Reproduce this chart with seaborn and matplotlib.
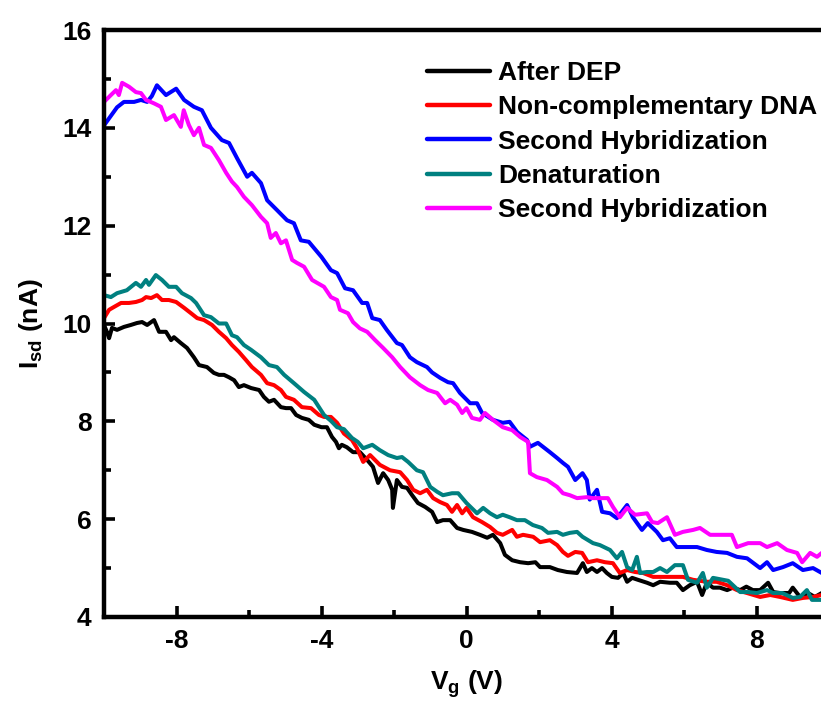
import matplotlib
matplotlib.use("Agg")
import matplotlib.pyplot as plt
import seaborn as sns
from matplotlib.ticker import MultipleLocator

# ---------------- data ----------------
labels = ["After DEP", "Non-complementary DNA", "Second Hybridization",
          "Denaturation", "Second Hybridization"]
colors = ["#000000", "#ff0000", "#0000ff", "#008080", "#ff00ff"]

black_x = [-10, -9.92, -9.86, -9.78, -9.64, -9.45, -9.26, -9.09, -8.95, -8.81, -8.62, -8.48, -8.29, -8.15,
           -8.07, -7.88, -7.71, -7.52, -7.38, -7.16, -6.97, -6.83, -6.69, -6.55, -6.41, -6.28, -6.14, -5.94,
           -5.72, -5.59, -5.45, -5.31, -5.12, -4.98, -4.84, -4.70, -4.54, -4.35, -4.20, -4.0, -3.85, -3.71,
           -3.60, -3.52, -3.44, -3.30, -3.13, -2.94, -2.74, -2.58, -2.44, -2.30, -2.16, -2.05, -2.03, -1.92,
           -1.78, -1.64, -1.50, -1.34, -1.14, -0.95, -0.81, -0.65, -0.45, -0.26, -0.09, 0.15, 0.37, 0.57,
           0.73, 0.93, 1.06, 1.26, 1.48, 1.70, 1.90, 2.03, 2.30, 2.52, 2.77, 3.05, 3.21, 3.32, 3.46, 3.60,
           3.74, 3.87, 4.01, 4.18, 4.32, 4.43, 4.57, 4.73, 4.98, 5.15, 5.34, 5.61, 5.80, 5.97, 6.16, 6.36,
           6.50, 6.63, 6.80, 6.99, 7.19, 7.35, 7.55, 7.72, 7.90, 8.10, 8.32, 8.46, 8.65, 8.90, 9.0, 9.20,
           9.42, 9.61, 9.80]
black_y = [9.97, 9.83, 9.70, 9.91, 9.87, 9.93, 9.97, 10.01, 10.03, 9.97, 10.07, 9.83, 9.83, 9.66,
           9.72, 9.60, 9.50, 9.31, 9.15, 9.11, 8.99, 8.95, 8.95, 8.90, 8.84, 8.70, 8.74, 8.68,
           8.64, 8.50, 8.40, 8.44, 8.29, 8.27, 8.27, 8.13, 8.07, 8.03, 7.93, 7.88, 7.88, 7.68,
           7.58, 7.45, 7.52, 7.47, 7.37, 7.37, 7.21, 7.07, 6.74, 6.94, 6.80, 6.60, 6.23, 6.80,
           6.66, 6.64, 6.49, 6.33, 6.25, 6.15, 5.94, 5.98, 5.98, 5.82, 5.78, 5.74, 5.68, 5.62,
           5.68, 5.51, 5.27, 5.16, 5.12, 5.10, 5.12, 5.02, 5.02, 4.96, 4.92, 4.90, 5.10, 4.92, 5.0, 4.92,
           5.0, 4.90, 4.82, 4.80, 4.90, 4.72, 4.80, 4.76, 4.70, 4.65, 4.72, 4.70, 4.70, 4.55, 4.65, 4.72,
           4.45, 4.70, 4.60, 4.60, 4.55, 4.60, 4.55, 4.62, 4.55, 4.55, 4.70, 4.51, 4.49, 4.49, 4.60, 4.41,
           4.49, 4.41, 4.49]

red_x = [-10, -9.86, -9.72, -9.53, -9.31, -9.12, -8.95, -8.84, -8.70, -8.54, -8.40, -8.21, -8.01, -7.79,
         -7.60, -7.43, -7.24, -7.02, -6.83, -6.63, -6.47, -6.28, -6.08, -5.92, -5.67, -5.50, -5.31, -5.12,
         -4.98, -4.76, -4.54, -4.29, -4.07, -3.93, -3.74, -3.57, -3.38, -3.16, -3.02, -2.85, -2.66, -2.39,
         -2.11, -1.83, -1.64, -1.47, -1.28, -1.09, -0.92, -0.73, -0.54, -0.40, -0.26, -0.12, 0.0, 0.18,
         0.43, 0.65, 0.84, 1.0, 1.26, 1.39, 1.56, 1.84, 2.03, 2.30, 2.50, 2.66, 2.80, 3.00, 3.19, 3.35,
         3.60, 3.82, 4.04, 4.23, 4.43, 4.65, 4.87, 5.15, 5.42, 5.70, 5.97, 6.25, 6.63, 6.90, 7.19, 7.46,
         7.74, 8.10, 8.38, 8.65, 9.0, 9.28, 9.56, 9.80]
red_y = [10.11, 10.28, 10.34, 10.42, 10.42, 10.44, 10.48, 10.54, 10.52, 10.58, 10.48, 10.48, 10.44, 10.32,
         10.21, 10.11, 10.07, 9.97, 9.83, 9.70, 9.56, 9.42, 9.25, 9.11, 8.95, 8.78, 8.74, 8.64,
         8.50, 8.44, 8.29, 8.27, 8.13, 8.09, 8.09, 7.97, 7.75, 7.62, 7.45, 7.17, 7.31, 7.11,
         7.0, 6.96, 6.80, 6.60, 6.53, 6.60, 6.43, 6.35, 6.29, 6.15, 6.29, 6.12, 6.23, 6.04,
         5.94, 5.84, 5.72, 5.68, 5.78, 5.64, 5.68, 5.64, 5.53, 5.57, 5.47, 5.33, 5.25, 5.33, 5.31, 5.12,
         5.16, 5.12, 5.10, 4.90, 4.96, 4.92, 4.90, 4.82, 4.82, 4.82, 4.82, 4.76, 4.72, 4.72, 4.65, 4.55,
         4.49, 4.41, 4.45, 4.41, 4.35, 4.39, 4.41, 4.45]

blue_x = [-10, -9.64, -9.45, -9.17, -8.98, -8.81, -8.68, -8.54, -8.29, -8.01, -7.79, -7.52, -7.30, -7.05,
          -6.75, -6.55, -6.33, -6.05, -5.92, -5.67, -5.50, -5.23, -4.95, -4.76, -4.57, -4.35, -4.0, -3.74,
          -3.57, -3.35, -3.13, -2.88, -2.74, -2.60, -2.39, -2.20, -1.92, -1.78, -1.56, -1.37, -1.09, -0.95,
          -0.73, -0.51, -0.37, -0.18, 0.10, 0.29, 0.43, 0.73, 1.0, 1.19, 1.40, 1.67, 1.75, 1.97, 2.30, 2.50,
          2.66, 2.80, 3.0, 3.20, 3.32, 3.40, 3.60, 3.74, 3.96, 4.15, 4.43, 4.59, 4.84, 5.0, 5.25, 5.42,
          5.61, 5.80, 6.08, 6.36, 6.63, 6.90, 7.19, 7.46, 7.74, 8.10, 8.29, 8.46, 8.73, 9.0, 9.28, 9.56, 9.80]
blue_y = [14.05, 14.42, 14.53, 14.53, 14.57, 14.53, 14.65, 14.87, 14.67, 14.80, 14.57, 14.43, 14.36, 14.0,
          13.75, 13.69, 13.38, 13.0, 13.08, 12.87, 12.52, 12.32, 12.11, 12.05, 11.70, 11.67, 11.36, 11.09,
          11.03, 10.72, 10.68, 10.42, 10.42, 10.11, 10.07, 9.87, 9.60, 9.56, 9.31, 9.21, 9.11, 9.0,
          8.89, 8.80, 8.78, 8.58, 8.37, 8.37, 8.17, 8.03, 7.97, 7.99, 7.78, 7.62, 7.48, 7.56, 7.37, 7.25,
          7.15, 7.07, 6.80, 6.94, 6.80, 6.40, 6.60, 6.15, 6.12, 6.02, 6.29, 6.04, 5.78, 5.92, 5.74, 5.57,
          5.61, 5.43, 5.43, 5.43, 5.37, 5.33, 5.31, 5.23, 5.20, 5.0, 5.12, 4.96, 5.02, 5.10, 4.96, 5.0, 4.90]

teal_x = [-10, -9.81, -9.64, -9.37, -9.12, -8.98, -8.84, -8.76, -8.57, -8.40, -8.21, -8.01, -7.85, -7.60,
          -7.46, -7.24, -7.05, -6.83, -6.63, -6.47, -6.33, -6.14, -5.94, -5.67, -5.45, -5.23, -5.03, -4.76,
          -4.48, -4.20, -4.07, -3.93, -3.74, -3.57, -3.38, -3.16, -3.0, -2.85, -2.60, -2.39, -2.16, -1.92,
          -1.78, -1.61, -1.37, -1.20, -1.0, -0.81, -0.65, -0.40, -0.23, 0.0, 0.29, 0.46, 0.65, 0.84, 1.0,
          1.19, 1.39, 1.61, 1.83, 2.08, 2.25, 2.50, 2.66, 2.85, 3.05, 3.20, 3.49, 3.68, 3.96, 4.15, 4.29,
          4.43, 4.57, 4.70, 4.79, 4.98, 5.15, 5.34, 5.53, 5.75, 5.97, 6.11, 6.36, 6.52, 6.63, 6.80, 7.08,
          7.22, 7.35, 7.55, 7.77, 8.01, 8.29, 8.46, 8.71, 9.0, 9.20, 9.39, 9.53, 9.80]
teal_y = [10.58, 10.54, 10.62, 10.68, 10.83, 10.75, 10.89, 10.79, 10.99, 10.89, 10.75, 10.75, 10.62, 10.52,
          10.42, 10.17, 10.13, 10.0, 10.0, 9.76, 9.72, 9.56, 9.46, 9.31, 9.15, 9.11, 8.95, 8.78,
          8.60, 8.44, 8.29, 8.13, 8.01, 7.88, 7.84, 7.66, 7.58, 7.45, 7.52, 7.41, 7.31, 7.25,
          7.27, 7.17, 7.0, 6.96, 6.66, 6.56, 6.49, 6.53, 6.53, 6.33, 6.12, 6.23, 6.12, 6.04, 6.09,
          6.04, 5.98, 5.98, 5.88, 5.82, 5.72, 5.74, 5.68, 5.72, 5.74, 5.64, 5.51, 5.47, 5.37, 5.20, 5.33,
          5.02, 4.96, 5.23, 4.90, 4.92, 4.92, 5.0, 4.92, 5.06, 5.06, 4.76, 4.70, 4.90, 4.60, 4.80, 4.76,
          4.74, 4.65, 4.51, 4.51, 4.49, 4.55, 4.49, 4.49, 4.39, 4.41, 4.55, 4.35, 4.35]

magenta_x = [-10, -9.81, -9.67, -9.59, -9.50, -9.31, -9.12, -8.98, -8.84, -8.62, -8.43, -8.29, -8.07, -7.88,
             -7.80, -7.66, -7.52, -7.38, -7.24, -7.05, -6.83, -6.63, -6.47, -6.33, -6.14, -5.92, -5.67, -5.50,
             -5.40, -5.26, -5.12, -4.98, -4.81, -4.68, -4.48, -4.26, -3.93, -3.74, -3.57, -3.49, -3.27, -3.13,
             -2.94, -2.74, -2.52, -2.30, -2.05, -1.83, -1.56, -1.28, -1.06, -0.81, -0.59, -0.45, -0.26, -0.12,
             0.0, 0.15, 0.37, 0.51, 0.73, 1.0, 1.26, 1.48, 1.70, 1.75, 1.94, 2.22, 2.50, 2.66, 2.85, 3.05,
             3.32, 3.49, 3.74, 3.90, 4.04, 4.23, 4.43, 4.65, 4.98, 5.12, 5.28, 5.53, 5.75, 5.97, 6.25, 6.44,
             6.72, 6.99, 7.32, 7.46, 7.77, 8.10, 8.29, 8.57, 8.84, 9.12, 9.26, 9.48, 9.67, 9.80]
magenta_y = [14.53, 14.67, 14.77, 14.67, 14.92, 14.84, 14.73, 14.71, 14.57, 14.50, 14.43, 14.16, 14.26, 14.02,
             14.36, 14.06, 13.85, 14.0, 13.65, 13.59, 13.34, 13.08, 12.90, 12.79, 12.59, 12.42, 12.18, 12.05,
             11.75, 11.85, 11.64, 11.70, 11.30, 11.24, 11.16, 10.89, 10.75, 10.54, 10.48, 10.28, 10.21, 10.03,
             9.90, 9.83, 9.66, 9.50, 9.31, 9.11, 8.90, 8.74, 8.64, 8.58, 8.37, 8.44, 8.34, 8.17,
             8.27, 8.07, 8.03, 8.17, 8.03, 7.88, 7.82, 7.68, 7.58, 6.94, 6.86, 6.80, 6.66, 6.53, 6.49, 6.43,
             6.45, 6.43, 6.43, 6.43, 6.25, 6.04, 6.23, 6.09, 6.12, 5.94, 5.92, 6.04, 5.68, 5.74, 5.78, 5.82,
             5.68, 5.68, 5.68, 5.43, 5.51, 5.51, 5.43, 5.51, 5.37, 5.31, 5.12, 5.31, 5.23, 5.31]

series_x = [black_x, red_x, blue_x, teal_x, magenta_x]
series_y = [black_y, red_y, blue_y, teal_y, magenta_y]

x_ticks = [-8, -4, 0, 4, 8]
y_ticks = [4, 6, 8, 10, 12, 14, 16]

# ---------------- style ----------------
sns.set_style("ticks")
plt.rcParams["font.family"] = ["Liberation Sans", "DejaVu Sans"]
plt.rcParams["font.weight"] = "bold"
plt.rcParams["axes.unicode_minus"] = False
plt.rcParams["text.color"] = "black"
plt.rcParams["axes.labelcolor"] = "black"
plt.rcParams["xtick.color"] = "black"
plt.rcParams["ytick.color"] = "black"
plt.rcParams["mathtext.fontset"] = "custom"
plt.rcParams["mathtext.rm"] = "Liberation Sans:bold"
plt.rcParams["mathtext.it"] = "Liberation Sans:bold"
plt.rcParams["mathtext.bf"] = "Liberation Sans:bold"
plt.rcParams["mathtext.default"] = "bf"

W, H = 821, 704
fig = plt.figure(figsize=(W / 100, H / 100), dpi=100)
ax = fig.add_axes([104 / W, (H - 617) / H, 725 / W, 587 / H])

for xs, ys, lab, col in zip(series_x, series_y, labels, colors):
    sns.lineplot(x=xs, y=ys, ax=ax, color=col, lw=2.9, label=lab,
                 sort=False, estimator=None)

ax.set_xlim(-10, 10)
ax.set_ylim(4, 16)
ax.set_xticks(x_ticks)
ax.set_yticks(y_ticks)
ax.xaxis.set_minor_locator(MultipleLocator(2))
ax.yaxis.set_minor_locator(MultipleLocator(1))
ax.tick_params(which="both", direction="in", top=False, right=False,
               labelsize=19, width=2.6, pad=9, colors="black")
ax.tick_params(which="major", length=8)
ax.tick_params(which="minor", length=5)
for lbl in ax.get_xticklabels() + ax.get_yticklabels():
    lbl.set_fontweight("bold")
for s in ax.spines.values():
    s.set_linewidth(3.2)
    s.set_color("black")

ax.set_xlabel("V$_{g}$ (V)", fontsize=19, fontweight="bold", labelpad=11)
ax.set_ylabel("I$_{sd}$ (nA)", fontsize=19, fontweight="bold", labelpad=12)

leg = ax.legend(loc="upper left", bbox_to_anchor=(427 / W, 1 - 61 / H),
                bbox_transform=fig.transFigure, frameon=False,
                fontsize=19, handlelength=2.4, handletextpad=0.3,
                labelspacing=0.39, borderpad=0, borderaxespad=0)
for t in leg.get_texts():
    t.set_fontweight("bold")
    t.set_color("black")
for h in leg.get_lines():
    h.set_linewidth(3.2)

fig.savefig("out.png", dpi=100)
